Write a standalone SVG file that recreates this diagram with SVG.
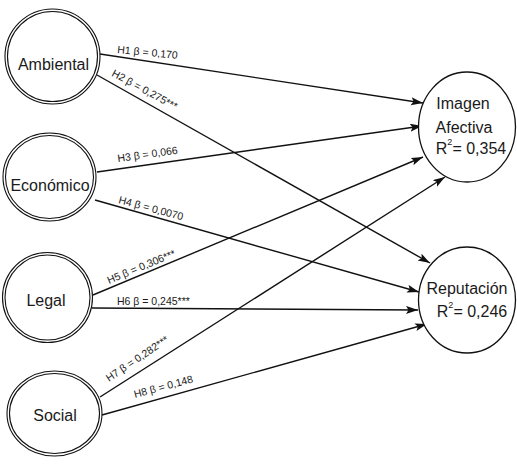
<svg xmlns="http://www.w3.org/2000/svg" width="517" height="464" viewBox="0 0 517 464">
<defs>
<style>
.bg{fill:#ffffff}
.ring{fill:none;stroke:#111;stroke-width:1.1}
.node{fill:#ffffff;stroke:#111;stroke-width:1.3}
.lbl{font-family:"Liberation Sans",Arial,sans-serif;font-size:16px;fill:#1a1a1a;text-anchor:middle}
.edge{stroke:#111;stroke-width:1.4;fill:none;marker-end:url(#arr)}
.elbl{font-family:"Liberation Sans",Arial,sans-serif;font-size:10.5px;fill:#1a1a1a}
.sup{font-size:9px}
</style>
<marker id="arr" markerUnits="userSpaceOnUse" markerWidth="13" markerHeight="9" refX="12" refY="4" orient="auto">
<path d="M0,0 L12,4 L0,8 L2.5,4 z" fill="#111"/>
</marker>
</defs>
<rect class="bg" x="0" y="0" width="517" height="464"/>

<g id="connectors">
<line class="edge" x1="100" y1="54" x2="423" y2="103"/>
<line class="edge" x1="97" y1="75" x2="430" y2="263"/>
<line class="edge" x1="97" y1="172" x2="422" y2="126"/>
<line class="edge" x1="95" y1="200" x2="419" y2="292"/>
<line class="edge" x1="93" y1="295" x2="423" y2="157"/>
<line class="edge" x1="92" y1="308" x2="418" y2="310"/>
<line class="edge" x1="100" y1="397" x2="445" y2="177"/>
<line class="edge" x1="102" y1="415" x2="427" y2="324"/>
<text class="elbl" transform="translate(117,53) rotate(5.5)">H1 β = 0,170</text>
<text class="elbl" transform="translate(111,75.5) rotate(28.5)">H2 β = 0,275***</text>
<text class="elbl" transform="translate(118,162) rotate(-8)">H3 β = 0,066</text>
<text class="elbl" transform="translate(118,203) rotate(15)">H4 β = 0,0070</text>
<text class="elbl" transform="translate(109,284) rotate(-22.5)">H5 β = 0,306***</text>
<text class="elbl" transform="translate(117,305)">H6 β = 0,245***</text>
<text class="elbl" transform="translate(109,382) rotate(-34)">H7 β = 0,282***</text>
<text class="elbl" transform="translate(135,398) rotate(-15)">H8 β = 0,148</text>
</g>

<g id="ambiental">
<ellipse class="ring" cx="52.5" cy="56.5" rx="47.5" ry="47.5"/>
<ellipse class="ring" cx="52.5" cy="56.5" rx="45" ry="45"/>
<text class="lbl" x="53.5" y="69.5">Ambiental</text>
</g>

<g id="economico">
<ellipse class="ring" cx="49.5" cy="177" rx="46.5" ry="44"/>
<ellipse class="ring" cx="49.5" cy="177" rx="44" ry="41.5"/>
<text class="lbl" x="50" y="190.5">Económico</text>
</g>

<g id="legal">
<ellipse class="ring" cx="47.5" cy="297.5" rx="45" ry="45"/>
<ellipse class="ring" cx="47.5" cy="297.5" rx="42.5" ry="42.5"/>
<text class="lbl" x="46" y="306">Legal</text>
</g>

<g id="social">
<ellipse class="ring" cx="54.5" cy="413.5" rx="47.5" ry="42.5"/>
<ellipse class="ring" cx="54.5" cy="413.5" rx="45" ry="40"/>
<text class="lbl" x="55" y="421">Social</text>
</g>

<g id="imagen">
<ellipse class="node" cx="467" cy="127" rx="48.5" ry="55"/>
<text class="lbl" x="463" y="109">Imagen</text>
<text class="lbl" x="464" y="133">Afectiva</text>
<text class="lbl" x="471" y="154">R<tspan class="sup" dy="-9">2</tspan><tspan dy="9">= 0,354</tspan></text>
</g>

<g id="reputacion">
<ellipse class="node" cx="467" cy="300" rx="48.5" ry="53"/>
<text class="lbl" x="467" y="294">Reputación</text>
<text class="lbl" x="472" y="317">R<tspan class="sup" dy="-9">2</tspan><tspan dy="9">= 0,246</tspan></text>
</g>
</svg>
